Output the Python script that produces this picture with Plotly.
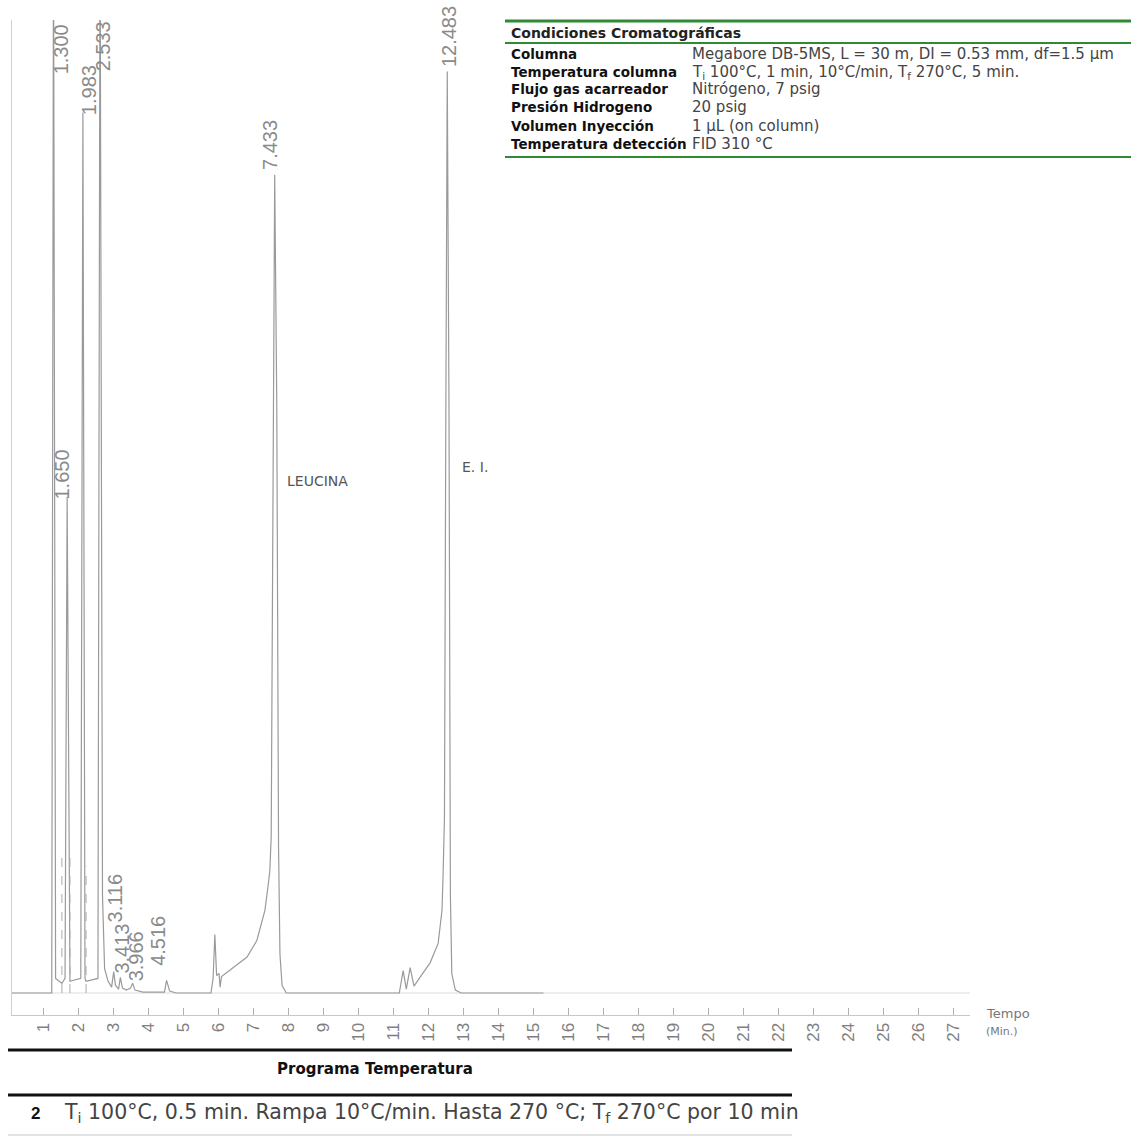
import plotly.graph_objects as go

# ---------------- data ----------------
# chromatogram trace: time (min) and detector signal (arbitrary units, 100 = top of frame)
trace_t = [0.11, 1.25, 1.30, 1.36, 1.54, 1.63, 1.69, 1.75, 1.77, 2.08, 2.14, 2.20, 2.23,
           2.57, 2.63, 2.70, 2.76, 2.86, 2.96, 3.02, 3.07, 3.16, 3.21, 3.27, 3.38, 3.50,
           3.56, 3.63, 3.85, 4.47, 4.53, 4.62, 4.80, 5.80, 5.86, 5.91, 5.96, 6.03, 6.06,
           6.10, 6.43, 6.83, 7.11, 7.34, 7.43, 7.48, 7.52, 7.56, 7.62, 7.68, 7.73, 7.77,
           7.83, 7.95, 11.18, 11.29, 11.38, 11.49, 11.60, 11.77, 12.06, 12.29, 12.40,
           12.43, 12.47, 12.51, 12.55, 12.60, 12.64, 12.68, 12.78, 12.95, 15.30]
trace_s = [0.0, 0.0, 110.0, 1.5, 1.0, 1.5, 51.0, 1.5, 1.2, 1.5, 90.5, 1.5, 1.2,
           1.5, 110.0, 10.0, 2.5, 1.2, 0.6, 2.2, 0.8, 0.4, 1.6, 0.5, 0.3, 0.5,
           1.0, 0.3, 0.1, 0.1, 1.3, 0.2, 0.0, 0.0, 1.5, 6.0, 1.8, 2.0, 0.6,
           1.7, 2.6, 3.7, 5.4, 8.5, 11.0, 12.5, 16.0, 50.0, 84.1, 60.0, 15.0, 4.0,
           0.8, 0.0, 0.0, 2.3, 0.4, 2.6, 0.7, 1.6, 3.1, 5.1, 8.5,
           12.0, 18.0, 60.0, 94.7, 60.0, 10.0, 2.0, 0.3, 0.0, 0.0]

# integration drop lines (dashed)
drop_t = [1.54, 1.77, 2.23]
drop_s = [14.0, 14.0, 13.0]

# peak retention-time labels and where they sit
peak_labels = ["1.300", "1.650", "1.983", "2.533", "3.116", "3.413", "3.966", "4.516", "7.433", "12.483"]
label_t = [1.54, 1.54, 2.31, 2.71, 3.06, 3.26, 3.66, 4.29, 7.49, 12.60]
label_s = [94.2, 50.5, 90.0, 94.5, 7.0, 1.8, 1.0, 2.6, 84.4, 94.9]

# compound names
compound_names = ["LEUCINA", "E. I."]
compound_t = [7.91, 12.90]
compound_s = [52.6, 54.1]

x_ticks = list(range(1, 28))

cond_labels = ["Columna", "Temperatura columna", "Flujo gas acarreador",
               "Presión Hidrogeno", "Volumen Inyección", "Temperatura detección"]
cond_values = ["Megabore DB-5MS, L = 30 m, DI = 0.53 mm, df=1.5 µm",
               "T<sub>i</sub> 100°C, 1 min, 10°C/min, T<sub>f</sub> 270°C, 5 min.",
               "Nitrógeno, 7 psig",
               "20 psig",
               "1 µL (on column)",
               "FID 310 °C"]

prog_number = "2"
prog_text = "T<sub>i</sub> 100°C, 0.5 min. Rampa 10°C/min. Hasta 270 °C; T<sub>f</sub> 270°C por 10 min"

# ---------------- layout geometry (pixels) ----------------
W, H = 1131, 1139
PL, PR, PT, PB = 12, 970, 20, 1015   # plot area edges in page pixels


def px(x):
    return (x - PL) / (PR - PL)


def py(y):
    return (PB - y) / (PB - PT)


GREY = "#9a9a9a"
FONT = "Liberation Sans"
WIDE = "DejaVu Sans"

fig = go.Figure()

fig.add_trace(go.Scatter(x=[x_ticks[0] - 0.9, x_ticks[-1] + 0.5], y=[0, 0], mode="lines",
                         line=dict(color="#dcdcdc", width=1), hoverinfo="skip"))
fig.add_trace(go.Scatter(x=trace_t, y=trace_s, mode="lines",
                         line=dict(color=GREY, width=1.2), hoverinfo="skip"))

dx, dy = [], []
for t, s in zip(drop_t, drop_s):
    dx += [t, t, None]
    dy += [0, s, None]
fig.add_trace(go.Scatter(x=dx, y=dy, mode="lines",
                         line=dict(color="#aaaaaa", width=1, dash="dash"), hoverinfo="skip"))

annotations = []
for lab, t, s in zip(peak_labels, label_t, label_s):
    annotations.append(dict(x=t, y=s, xref="x", yref="y", text=lab, showarrow=False,
                            textangle=-90, xanchor="center", yanchor="bottom",
                            font=dict(family=FONT, size=20, color="#8a8a8a")))
for name, t, s in zip(compound_names, compound_t, compound_s):
    annotations.append(dict(x=t, y=s, xref="x", yref="y", text=name, showarrow=False,
                            xanchor="left", yanchor="middle",
                            font=dict(family=WIDE, size=14, color="#555555")))

annotations.append(dict(x=px(984), y=py(1013), xref="paper", yref="paper", text="Tempo",
                        showarrow=False, xanchor="left", yanchor="middle",
                        font=dict(family=WIDE, size=13, color="#777777")))
annotations.append(dict(x=px(984), y=py(1031), xref="paper", yref="paper", text="(Min.)",
                        showarrow=False, xanchor="left", yanchor="middle",
                        font=dict(family=WIDE, size=11, color="#777777")))

# conditions table (top right)
GREEN = "#2f8a35"
annotations.append(dict(x=px(509), y=py(33), xref="paper", yref="paper",
                        text="<b>Condiciones Cromatográficas</b>", showarrow=False,
                        xanchor="left", yanchor="middle",
                        font=dict(family=WIDE, size=14, color="#222222")))
row_y = [54, 72, 89, 107, 126, 144]
for lab, val, yy in zip(cond_labels, cond_values, row_y):
    annotations.append(dict(x=px(509), y=py(yy), xref="paper", yref="paper",
                            text="<b>" + lab + "</b>", showarrow=False,
                            xanchor="left", yanchor="middle",
                            font=dict(family=WIDE, size=13.5, color="#111111")))
    annotations.append(dict(x=px(690), y=py(yy), xref="paper", yref="paper",
                            text=val, showarrow=False, xanchor="left", yanchor="middle",
                            font=dict(family=WIDE, size=15, color="#444444")))

# temperature program table (bottom)
annotations.append(dict(x=px(375), y=py(1069), xref="paper", yref="paper",
                        text="<b>Programa Temperatura</b>", showarrow=False,
                        xanchor="center", yanchor="middle",
                        font=dict(family=WIDE, size=15, color="#111111")))
annotations.append(dict(x=px(35), y=py(1113), xref="paper", yref="paper",
                        text="<b>" + prog_number + "</b>", showarrow=False,
                        xanchor="center", yanchor="middle",
                        font=dict(family=FONT, size=17, color="#111111")))
annotations.append(dict(x=px(62), y=py(1113), xref="paper", yref="paper",
                        text=prog_text, showarrow=False, xanchor="left", yanchor="middle",
                        font=dict(family=WIDE, size=20.5, color="#444444")))

shapes = [
    dict(type="line", xref="paper", yref="paper", x0=px(505), x1=px(1131), y0=py(21), y1=py(21),
         line=dict(color=GREEN, width=3)),
    dict(type="line", xref="paper", yref="paper", x0=px(505), x1=px(1131), y0=py(43), y1=py(43),
         line=dict(color=GREEN, width=2)),
    dict(type="line", xref="paper", yref="paper", x0=px(505), x1=px(1131), y0=py(157), y1=py(157),
         line=dict(color=GREEN, width=2)),
    dict(type="line", xref="paper", yref="paper", x0=px(8), x1=px(792), y0=py(1050), y1=py(1050),
         line=dict(color="#111111", width=3)),
    dict(type="line", xref="paper", yref="paper", x0=px(8), x1=px(792), y0=py(1095), y1=py(1095),
         line=dict(color="#111111", width=3)),
    dict(type="line", xref="paper", yref="paper", x0=px(8), x1=px(792), y0=py(1135), y1=py(1135),
         line=dict(color="#e2e2e2", width=2)),
]

t_per_px = 1 / 35.0
x_lo = (PL - 8) * t_per_px
x_hi = (PR - 8) * t_per_px
s_per_px = 1 / 9.73
y_lo = -(PB - 993) * s_per_px
y_hi = (993 - PT) * s_per_px

fig.update_layout(
    width=W, height=H,
    margin=dict(l=PL, r=W - PR, t=PT, b=H - PB),
    paper_bgcolor="white", plot_bgcolor="white",
    showlegend=False,
    font=dict(family=FONT),
    xaxis=dict(range=[x_lo, x_hi], tickmode="array", tickvals=x_ticks,
               ticktext=[str(v) for v in x_ticks], ticks="inside", ticklen=7,
               tickcolor="#b0b0b0", showline=True, linecolor="#c8c8c8", linewidth=1,
               tickangle=-90, tickfont=dict(family=FONT, size=17, color="#808080"),
               showgrid=False, zeroline=False, fixedrange=True),
    yaxis=dict(range=[y_lo, y_hi], showticklabels=False, ticks="", showgrid=False,
               zeroline=False, showline=True, linecolor="#d0d0d0", linewidth=1,
               fixedrange=True),
    annotations=annotations,
    shapes=shapes,
)

fig.write_html("out.html")
